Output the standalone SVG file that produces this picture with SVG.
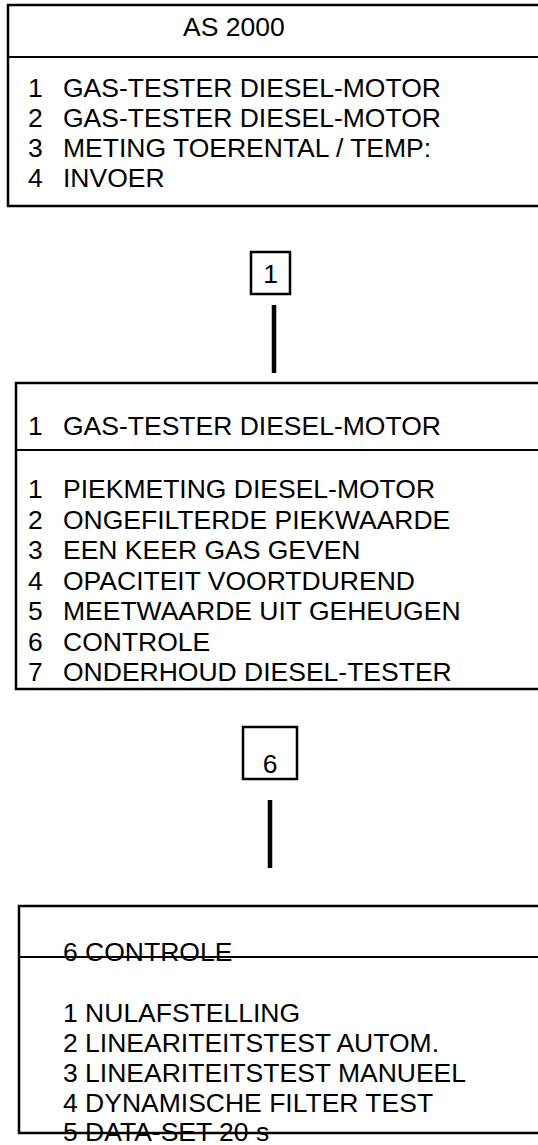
<svg xmlns="http://www.w3.org/2000/svg" width="538" height="1145" viewBox="0 0 538 1145">
<style>
.box{fill:none;stroke:#000;stroke-width:2.5}
.div{stroke:#000;stroke-width:2.2}
.t{font-family:"Liberation Sans",Arial,sans-serif;font-size:26.5px;fill:#000}
.c{text-anchor:middle}
.conn{stroke:#000;stroke-width:4.5}
</style>
<rect width="538" height="1145" fill="#fff"/>
<g id="menu-main">
<rect class="box" x="8" y="5" width="560" height="201"/>
<line class="div" x1="8" y1="57" x2="560" y2="57"/>
<text class="t" x="183" y="36">AS 2000</text>
<text class="t" x="28" y="97">1</text><text class="t" x="63" y="97">GAS-TESTER DIESEL-MOTOR</text>
<text class="t" x="28" y="127">2</text><text class="t" x="63" y="127">GAS-TESTER DIESEL-MOTOR</text>
<text class="t" x="28" y="157">3</text><text class="t" x="63" y="157">METING TOERENTAL / TEMP:</text>
<text class="t" x="28" y="187">4</text><text class="t" x="63" y="187">INVOER</text>
</g>
<g id="key-1">
<rect class="box" x="251" y="252" width="39" height="42"/>
<text class="t c" x="270.5" y="283">1</text>
</g>
<g id="menu-gas-tester">
<rect class="box" x="16" y="383" width="560" height="306"/>
<line class="div" x1="16" y1="450" x2="560" y2="450"/>
<text class="t" x="28" y="435">1</text><text class="t" x="63" y="435">GAS-TESTER DIESEL-MOTOR</text>
<text class="t" x="28" y="498">1</text><text class="t" x="63" y="498">PIEKMETING DIESEL-MOTOR</text>
<text class="t" x="28" y="528.5">2</text><text class="t" x="63" y="528.5">ONGEFILTERDE PIEKWAARDE</text>
<text class="t" x="28" y="559">3</text><text class="t" x="63" y="559">EEN KEER GAS GEVEN</text>
<text class="t" x="28" y="589.5">4</text><text class="t" x="63" y="589.5">OPACITEIT VOORTDUREND</text>
<text class="t" x="28" y="620">5</text><text class="t" x="63" y="620">MEETWAARDE UIT GEHEUGEN</text>
<text class="t" x="28" y="650.5">6</text><text class="t" x="63" y="650.5">CONTROLE</text>
<text class="t" x="28" y="681">7</text><text class="t" x="63" y="681">ONDERHOUD DIESEL-TESTER</text>
</g>
<g id="key-6">
<rect class="box" x="243" y="727" width="54" height="52"/>
<text class="t c" x="270" y="773">6</text>
</g>
<g id="menu-controle">
<rect class="box" x="19" y="906" width="560" height="227"/>
<line class="div" x1="19" y1="957" x2="560" y2="957"/>
<text class="t" x="63" y="961">6 CONTROLE</text>
<text class="t" x="63" y="1022">1 NULAFSTELLING</text>
<text class="t" x="63" y="1052">2 LINEARITEITSTEST AUTOM.</text>
<text class="t" x="63" y="1082">3 LINEARITEITSTEST MANUEEL</text>
<text class="t" x="63" y="1112">4 DYNAMISCHE FILTER TEST</text>
<text class="t" x="63" y="1141">5 DATA-SET 20 s</text>
</g>
<g id="connectors">
<line class="conn" x1="274" y1="305" x2="274" y2="373"/>
<line class="conn" x1="270" y1="800" x2="270" y2="868"/>
</g>
</svg>
